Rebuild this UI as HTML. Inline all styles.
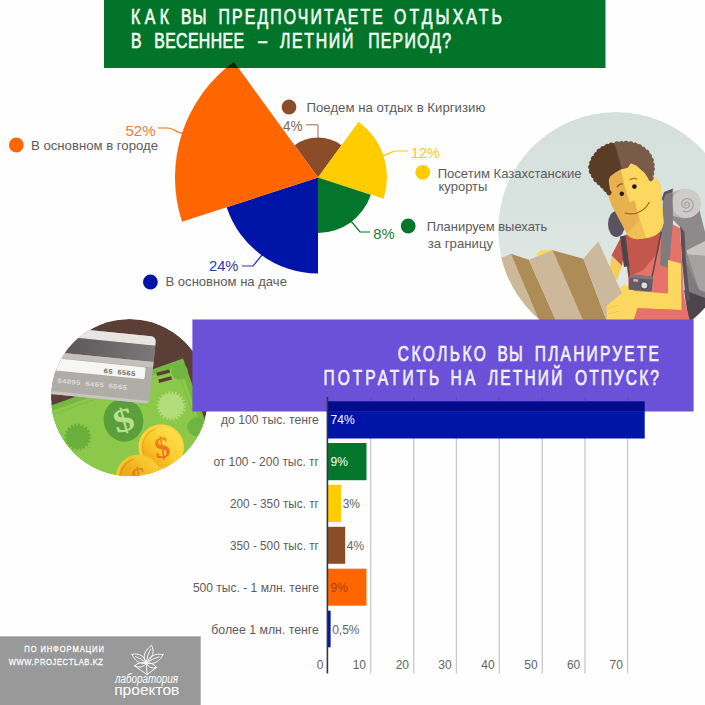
<!DOCTYPE html>
<html lang="ru">
<head>
<meta charset="utf-8">
<title>Infographic</title>
<style>
html,body{margin:0;padding:0;background:#fefefe;}
body{width:705px;height:705px;overflow:hidden;position:relative;font-family:"Liberation Sans",sans-serif;}
svg{position:absolute;left:0;top:0;display:block;}
text{font-family:"Liberation Sans",sans-serif;}
.lbl{font-size:13px;fill:#5c5c5c;}
.ttl{font-size:22px;fill:#f4fbf2;stroke:#f4fbf2;stroke-width:0.7px;}
.ttl2{font-size:21.5px;fill:#f3f0ff;stroke:#f3f0ff;stroke-width:0.7px;}
.pct{font-size:15px;}
.ax{font-size:12px;fill:#646464;}
</style>
</head>
<body>
<svg width="705" height="705" viewBox="0 0 705 705">
<defs>
<linearGradient id="gTrav" x1="0" x2="0" y1="0" y2="1"><stop offset="0" stop-color="#d5dfdb"/><stop offset="0.45" stop-color="#d9e3df"/><stop offset="0.85" stop-color="#e4ebe9"/></linearGradient>
<clipPath id="cHdr"><rect x="104" y="0" width="501.5" height="68"/></clipPath>
<clipPath id="cTrav"><circle cx="616" cy="230" r="118"/></clipPath>
<clipPath id="cMoney"><circle cx="129.5" cy="397.5" r="78.5"/></clipPath>
</defs>

<!-- ===== traveler circle ===== -->
<g id="traveler" clip-path="url(#cTrav)">
<circle cx="616" cy="230" r="118" fill="url(#gTrav)"/>
<!--TRAV_START-->
<!-- backpack body -->
<path d="M666,194 L680,192 L699,208 L705,232 L705,305 L692,314 L686,292 L685,262 L681,228 L673,220 Z" fill="#8e898b"/>
<path d="M686.5,250.5 L705,241 L705,256 L687.5,254.5 Z" fill="#c9c5c2"/>
<path d="M687.5,254.5 L705,256 L705,292 L699,290 Z" fill="#a5a1a0"/>
<path d="M686,262 L699,290 L705,292 L705,300 L690,300 Z" fill="#7f7a7d"/>
<path d="M684,290 L705,298 L705,330 L690,330 Z" fill="#4c464c"/>
<path d="M680,226 L684.5,232 L686,262 L690,300 L686,302 L682,262 Z" fill="#5a5258"/>
<!-- roll -->
<path d="M672.5,192 L684,188.5 L684,218.5 L672.5,216 Z" fill="#bab6b5"/>
<circle cx="686.5" cy="203.4" r="14.6" fill="#cfcbca"/>
<path d="M686.2,205.2 C684.8,205.4 684.3,203.2 685.8,202.4 C688,201.2 690.2,203.6 689.2,206 C688,208.8 683.6,208.8 682.2,205.6 C680.6,201.8 683.8,198.2 687.6,198.6 C692,199 694.4,203.6 692.8,207.6 C691.2,211.4 686.8,212.6 683.2,211.2" fill="none" stroke="#aaa5a6" stroke-width="1.3" stroke-linecap="round"/>
<!-- dark pad behind left shoulder -->
<ellipse cx="616.5" cy="224" rx="8.5" ry="13" fill="#595360"/>
<!-- torso light red -->
<path d="M624,236 L668,222 L680,228 L682,262 L684,296 L690,322 L630,322 L628,276 Z" fill="#e5736a"/>
<!-- chest dark red -->
<path d="M624.6,235 L661.5,231 L658.5,251.6 L643.4,270 L628.5,277 L625.5,260 Z" fill="#c4574d"/>
<!-- left sleeve -->
<path d="M620,239 L611.5,255.5 L622,266 L625.5,246 Z" fill="#c4574d"/>
<!-- left arm -->
<path d="M611.5,256 L622,266 L617,280 L609,276 Z" fill="#f5cd58"/>
<!-- straps -->
<path d="M620,236.5 L625.5,235.5 L629.5,266 L624,267 Z" fill="#4b4349"/>
<path d="M663,199 L666,193 L672.5,191 L673,222 L668.8,268 L660,265 L661.5,232 Z" fill="#807b7f"/>
<path d="M661,201 L664,192 L673,188.5 L672.5,192 L666,194 L663.2,200 Z" fill="#5a5560"/>
<path d="M672.5,220 L680,228 L682,262 L684,296 L676,280 L668.5,268 Z" fill="#8e898b" opacity="0"/>
<!-- right arm -->
<path d="M668,260 L681,263.5 L681.5,310 L633,308 L608,312 L607,304 L624,284 L634,291 L668,293.5 Z" fill="#fdd860"/>
<path d="M681.5,310 L633,308 L628,322 L690,322 Z" fill="#e5736a"/>
<!-- camera straps -->
<path d="M624.8,236 L629.5,277 M661.2,232 L652,277" stroke="#5b4a47" stroke-width="1.5" fill="none"/>
<!-- camera -->
<g transform="rotate(5 640 283)">
<rect x="629" y="275.5" width="23.5" height="15" rx="1.5" fill="#615e67"/>
<rect x="629" y="275.5" width="23.5" height="3" rx="1.2" fill="#7b7881"/>
<circle cx="644.5" cy="285" r="4.2" fill="#4e4b54"/>
<circle cx="644.5" cy="285" r="3" fill="#dcdcdc"/>
<rect x="633" y="279.5" width="5" height="2.6" rx="1" fill="#e9a7c0"/>
</g>
<!-- face -->
<path d="M606.9,169 L606.9,176 L608.9,198 L611.5,205 L626.8,233.7 Q631,240 639.5,239 L651.4,237 Q661.6,233.7 663.7,222.7 L660.3,184.4 L656.5,178.5 L631,160 Z" fill="#e8b04e"/>
<path d="M620,166 L624.6,186 L629.7,202.3 L634.8,200.6 L636.1,206.5 L639.9,220 L646,238.3 L651.4,237 Q661.6,233.7 663.7,222.7 L660.3,184.4 L656.5,178.5 L631,160 Z" fill="#fdd860"/>
<path d="M626.8,233.7 Q631,240 639.5,239 L646,238.3 L639.9,220 Z" fill="#f0bf55"/>
<!-- eyes, brows, smile -->
<circle cx="621.8" cy="193.8" r="2.2" fill="#231a14"/>
<circle cx="634.4" cy="186.6" r="2.3" fill="#231a14"/>
<path d="M617,187.2 Q619.5,183.2 623,184" stroke="#8a5a2a" stroke-width="1.2" fill="none"/>
<path d="M629.5,180 Q633.5,177 637.2,179.5" stroke="#b07a30" stroke-width="1.2" fill="none"/>
<path d="M624.6,213 Q641,217 649.6,202" stroke="#a8691f" stroke-width="1.2" fill="none"/>
<!-- hair -->
<path d="M609.0,192.6 L601.8,184.9 L596.3,180.2 L591.5,172.2 L590.6,165.8 L593.8,157.9 L600.2,150.0 L608.1,146.0 L616.9,143.9 L628.8,143.3 L638.3,146.0 L646.3,151.5 L651.0,158.7 L652.6,167.4 L651.4,175.4 L650.8,180.2 L645.5,172.2 L636.7,164.3 L630.4,161.9 L627.2,166.7 L620.8,168.3 L614.5,171.5 L609.0,175.4 L607.4,180.2 Z" fill="#7a5a49" stroke="#7a5a49" stroke-width="2.4" stroke-linejoin="round"/>
<path d="M613.7,144.4 L608.1,146.0 L600.2,150.0 L593.8,157.9 L590.6,165.8 L591.5,172.2 L596.3,180.2 L601.8,184.9 L609.0,192.6 L607.4,180.2 L609.0,175.4 L614.5,171.5 L620.3,168.0 Z" fill="#5b3d27" stroke="#5b3d27" stroke-width="2.4" stroke-linejoin="round"/>
<path d="M609.0,192.6 L601.8,184.9 L596.3,180.2 L591.5,172.2 L590.6,165.8 L593.8,157.9 L600.2,150.0 L608.1,146.0 L613.7,144.4" fill="none" stroke="#5b3d27" stroke-width="5.2" stroke-linecap="round" stroke-dasharray="0.01 4.6"/>
<path d="M616.9,143.9 L628.8,143.3 L638.3,146.0 L646.3,151.5 L651.0,158.7 L652.6,167.4 L651.4,175.4 L650.8,180.2" fill="none" stroke="#7a5a49" stroke-width="5.2" stroke-linecap="round" stroke-dasharray="0.01 4.6"/>
<!-- left hand peeking above map -->
<path d="M535.5,255 L540,250.2 L552.6,249.6 L556,252 L548,258 Z" fill="#fdd860"/>
<!-- map -->
<path d="M496,258 L503.9,256.7 L510.9,253.8 L541,325 L496,325 Z" fill="#cdb999"/>
<path d="M510.9,253.8 L528.8,259.7 L558,325 L541,325 Z" fill="#ad8c58"/>
<path d="M528.8,259.7 L552.6,250.2 L585,325 L558,325 Z" fill="#cdb999"/>
<path d="M552.6,250.2 L583.4,258.7 L608.3,325 L585,325 Z" fill="#ad8c58"/>
<path d="M583.4,258.7 L598.3,241.4 L622,293.5 L612,306 L608.3,325 Z" fill="#cbb89d"/>
<!-- right hand over map -->
<path d="M607,325 L606.5,306 L622,293 L634,290.5 L640,300 L632,325 Z" fill="#fdd860"/>
<path d="M607.5,309 L618,305 M608,314 L619,311" stroke="#f0c654" stroke-width="1" fill="none"/>
<!--TRAV_END-->
</g>

<!-- ===== money circle ===== -->
<g id="money" clip-path="url(#cMoney)">
<circle cx="129.5" cy="397.5" r="78.5" fill="#5b3f36"/>
<!--MONEY_START-->
<!-- bill -->
<g transform="rotate(-19.6 183 358.5)">
<rect x="20" y="358.5" width="163" height="140" fill="#76b842"/>
<rect x="20" y="364" width="157.5" height="130" fill="#8cc94b"/>
<rect x="20" y="367.5" width="154" height="125" fill="none" stroke="#7dbd45" stroke-width="1"/>
<circle cx="175.5" cy="369.5" r="8.2" fill="#70b53f"/>
<circle cx="173" cy="427.5" r="9.5" fill="#70b53f"/>
</g>
<!-- equals marks -->
<g transform="rotate(-15 164 376)" fill="#5b3f36">
<rect x="157.5" y="370.8" width="13.4" height="3.4"/>
<rect x="157.5" y="378" width="13.4" height="3.4"/>
</g>
<!-- starbursts -->
<g fill="#b3dc7c">
<circle cx="171.2" cy="406" r="12.4"/>
<circle cx="171.2" cy="406" r="12.9" fill="none" stroke="#b3dc7c" stroke-width="3.2" stroke-dasharray="1.6 1.78"/>
</g>
<g fill="#6aae3c">
<circle cx="77.8" cy="437" r="11.6"/>
<circle cx="77.8" cy="437" r="12" fill="none" stroke="#6aae3c" stroke-width="3" stroke-dasharray="2 1.77"/>
</g>
<!-- dollar medallion -->
<ellipse cx="123.5" cy="420.3" rx="19.8" ry="21.5" fill="#5a9f3c" transform="rotate(-15 123.5 420.3)"/>
<text x="0" y="11" text-anchor="middle" font-size="33px" font-weight="bold" fill="#b9df8e" transform="translate(123.5,420.3) rotate(-15) scale(1.25,1)" style="font-family:'Liberation Serif',serif">$</text>
<!-- credit card -->
<defs><linearGradient id="gStripe" x1="0" x2="1" y1="0" y2="0"><stop offset="0.3" stop-color="#5d595b"/><stop offset="1" stop-color="#7c7879"/></linearGradient></defs>
<g transform="translate(1.2,1.2) rotate(5.7 154.9 335.5)">
<rect x="30" y="335.5" width="124.9" height="67.5" rx="5" fill="#b0aca8"/>
<path d="M30,335.5 H149.9 a5,5 0 0 1 5,5 V344.5 H30 Z" fill="#e7e5e1"/>
<rect x="30" y="344.5" width="124.9" height="16.5" fill="url(#gStripe)"/>
<rect x="30" y="361" width="124.9" height="5.5" fill="#c4c1bd"/>
<rect x="30" y="367" width="117.5" height="12" rx="1.5" fill="#f6f6f5"/>
<path d="M30,400 H154.9 V398 a5,5 0 0 1 -5,5 H30 Z" fill="#c9c5c0"/>
<text x="106" y="376.8" font-size="7px" font-weight="bold" fill="#726f6c" textLength="32" lengthAdjust="spacingAndGlyphs" style="font-family:'Liberation Mono',monospace">65 6565</text>
<text x="61" y="391.3" font-size="7px" font-weight="bold" fill="#dedbd6" textLength="70" lengthAdjust="spacingAndGlyphs" style="font-family:'Liberation Mono',monospace">54095 6465 6565</text>
</g>
<!-- coins -->
<defs>
<linearGradient id="gCoin" x1="0.85" y1="0.1" x2="0.15" y2="0.9"><stop offset="0" stop-color="#ffe14d"/><stop offset="0.55" stop-color="#fccb2b"/><stop offset="1" stop-color="#f0a216"/></linearGradient>
<linearGradient id="gCoin2" x1="0.85" y1="0.1" x2="0.15" y2="0.9"><stop offset="0" stop-color="#f9cf38"/><stop offset="0.5" stop-color="#efb01d"/><stop offset="1" stop-color="#e59a14"/></linearGradient>
<linearGradient id="gDol" x1="0.5" y1="0" x2="0.5" y2="1"><stop offset="0" stop-color="#ef9220"/><stop offset="1" stop-color="#ee5f1c"/></linearGradient>
</defs>
<g>
<circle cx="161.2" cy="447" r="22.8" fill="#fbd33a"/>
<circle cx="162" cy="447.2" r="20.6" fill="url(#gCoin)"/>
<path d="M145.5,458 A20,20 0 0 1 156,428.5" fill="none" stroke="#ee9d18" stroke-width="1.1" opacity="0.8"/>
<text x="162" y="457.5" text-anchor="middle" font-size="30px" font-weight="bold" fill="url(#gDol)" transform="rotate(-10 162 447)" style="font-family:'Liberation Serif',serif">$</text>
<circle cx="138.6" cy="477.3" r="22.8" fill="#f6c631"/>
<circle cx="139.2" cy="477.6" r="20.6" fill="url(#gCoin2)"/>
<path d="M123,488 A20,20 0 0 1 133.5,459" fill="none" stroke="#d98a12" stroke-width="1.1" opacity="0.8"/>
<text x="139" y="488" text-anchor="middle" font-size="30px" font-weight="bold" fill="#e08a1a" transform="rotate(-10 139 477.3)" style="font-family:'Liberation Serif',serif">$</text>
</g>
<!--MONEY_END-->
</g>

<!-- ===== green header ===== -->
<rect x="104" y="0" width="501.5" height="68" fill="#02742a"/>
<g class="ttl">
<text transform="translate(131.0,24.0) scale(0.72,1)" textLength="52.8" lengthAdjust="spacing">КАК</text>
<text transform="translate(181.0,24.0) scale(0.72,1)" textLength="35.4" lengthAdjust="spacing">ВЫ</text>
<text transform="translate(218.6,24.0) scale(0.72,1)" textLength="228.1" lengthAdjust="spacing">ПРЕДПОЧИТАЕТЕ</text>
<text transform="translate(394.0,24.0) scale(0.72,1)" textLength="150.0" lengthAdjust="spacing">ОТДЫХАТЬ</text>
<text transform="translate(131.0,47.5) scale(0.72,1)" textLength="13.3" lengthAdjust="spacing">В</text>
<text transform="translate(154.2,47.5) scale(0.72,1)" textLength="124.7" lengthAdjust="spacing">ВЕСЕННЕЕ</text>
<text transform="translate(258.3,47.5) scale(0.72,1)" textLength="13.1" lengthAdjust="spacing">–</text>
<text transform="translate(280.0,47.5) scale(0.72,1)" textLength="101.8" lengthAdjust="spacing">ЛЕТНИЙ</text>
<text transform="translate(368.2,47.5) scale(0.72,1)" textLength="115.0" lengthAdjust="spacing">ПЕРИОД?</text>
</g>

<!-- ===== pie ===== -->
<g id="pie">
<path d="M318,177.5 L294.49,145.14 A40,40 0 0 1 341.51,145.14 Z" fill="#8b4d27"/>
<path d="M318,177.5 L358.56,121.68 A69,69 0 0 1 383.62,198.82 Z" fill="#ffcc00"/>
<path d="M318,177.5 L370.78,194.65 A55.5,55.5 0 0 1 318.00,233.00 Z" fill="#03762b"/>
<path d="M318,177.5 L318.00,273.50 A96,96 0 0 1 226.70,207.17 Z" fill="#0014a8"/>
<path d="M318,177.5 L182.00,221.69 A143,143 0 0 1 233.95,61.81 Z" fill="#ff6600"/>
<path d="M318,177.5 L182.00,221.69 A143,143 0 0 1 233.95,61.81 Z" fill="#0a2805" clip-path="url(#cHdr)"/>
</g>

<!-- leader lines -->
<g fill="none" stroke-width="1.2">
<path d="M158,128 H168 C174,128 176,133 183,133.5" stroke="#ff6600"/>
<path d="M306,124.8 H318 V138" stroke="#94705c" stroke-width="1"/>
<path d="M408,151 H397 C391,151 388,155 383,155.5" stroke="#ffcc00"/>
<path d="M370,232 H360 L351,221" stroke="#03762b"/>
<path d="M242,266 H253 L262,255" stroke="#2a35a8"/>
</g>

<!-- pct labels -->
<g class="pct">
<text x="125.5" y="135.5" fill="#f47a33" textLength="30" lengthAdjust="spacingAndGlyphs">52%</text>
<text x="283" y="131" fill="#7f6658" textLength="19.6" lengthAdjust="spacingAndGlyphs">4%</text>
<text x="411" y="158" fill="#f9c81c" textLength="28.7" lengthAdjust="spacingAndGlyphs">12%</text>
<text x="373.2" y="238.8" fill="#1f7a3a" textLength="21.4" lengthAdjust="spacingAndGlyphs">8%</text>
<text x="209" y="271.4" fill="#2f3aa5" textLength="29.4" lengthAdjust="spacingAndGlyphs">24%</text>
</g>

<!-- legend dots + labels -->
<circle cx="16.3" cy="145" r="7.4" fill="#ff6600"/>
<circle cx="289" cy="107" r="7.4" fill="#8b4d27"/>
<circle cx="422.7" cy="172.3" r="7.4" fill="#ffcc00"/>
<circle cx="408.2" cy="226" r="7.4" fill="#03762b"/>
<circle cx="150.4" cy="282" r="7.4" fill="#0014a8"/>
<g class="lbl">
<text x="31" y="149.6" textLength="127" lengthAdjust="spacingAndGlyphs">В основном в городе</text>
<text x="306.5" y="112.2" textLength="178.8" lengthAdjust="spacingAndGlyphs">Поедем на отдых в Киргизию</text>
<text x="437.7" y="178" textLength="143.9" lengthAdjust="spacingAndGlyphs">Посетим Казахстанские</text>
<text x="438.5" y="190.8">курорты</text>
<text x="426.7" y="231.4" textLength="120.6" lengthAdjust="spacingAndGlyphs">Планируем выехать</text>
<text x="427.8" y="248" textLength="65.2" lengthAdjust="spacingAndGlyphs">за границу</text>
<text x="165.5" y="286" textLength="121.4" lengthAdjust="spacingAndGlyphs">В основном на даче</text>
</g>

<!-- ===== bar chart ===== -->
<g id="bars">
<g stroke="#c9c9c9" stroke-width="1.3">
<path d="M370.7,397V673.5M413.7,397V673.5M456.4,397V673.5M499.3,397V673.5M542.3,397V673.5M585,397V673.5M627.6,397V673.5"/>
</g>
<rect x="328" y="401.3" width="316.7" height="37.2" fill="#0014a8"/>
<rect x="328" y="443" width="38.5" height="37.2" fill="#03762b"/>
<rect x="328" y="484.8" width="13" height="37.2" fill="#ffcc00"/>
<rect x="328" y="526.8" width="17.2" height="37" fill="#8b4d27"/>
<rect x="328" y="568.7" width="38.5" height="37" fill="#ff6600"/>
<rect x="328" y="610.7" width="2.6" height="36.6" fill="#0014a8"/>
</g>

<!-- ===== purple banner ===== -->
<rect x="192.4" y="319.5" width="501.2" height="92" fill="#6b50d8"/>
<!-- overlap of blue bar and banner -->
<rect x="328" y="401.3" width="316.7" height="10.2" fill="#000c8c"/>
<g stroke="#5d44c4" stroke-width="1.2">
<path d="M370.7,397V401.3M413.7,397V401.3M456.4,397V401.3M499.3,397V401.3M542.3,397V401.3M585,397V401.3M627.6,397V401.3"/>
</g>
<rect x="326.6" y="397" width="1.6" height="276.5" fill="#333846"/>
<g class="ttl2">
<text transform="translate(397.8,361.0) scale(0.72,1)" textLength="122.2" lengthAdjust="spacing">СКОЛЬКО</text>
<text transform="translate(497.4,361.0) scale(0.72,1)" textLength="35.0" lengthAdjust="spacing">ВЫ</text>
<text transform="translate(534.8,361.0) scale(0.72,1)" textLength="172.4" lengthAdjust="spacing">ПЛАНИРУЕТЕ</text>
<text transform="translate(323.5,385.0) scale(0.72,1)" textLength="160.8" lengthAdjust="spacing">ПОТРАТИТЬ</text>
<text transform="translate(450.6,385.0) scale(0.72,1)" textLength="34.3" lengthAdjust="spacing">НА</text>
<text transform="translate(488.0,385.0) scale(0.72,1)" textLength="103.2" lengthAdjust="spacing">ЛЕТНИЙ</text>
<text transform="translate(575.0,385.0) scale(0.72,1)" textLength="116.5" lengthAdjust="spacing">ОТПУСК?</text>
</g>

<!-- bar labels -->
<g class="lbl">
<text x="220.9" y="424" textLength="98.0" lengthAdjust="spacingAndGlyphs">до 100 тыс. тенге</text>
<text x="213.4" y="466" textLength="105.5" lengthAdjust="spacingAndGlyphs">от 100 - 200 тыс. тг</text>
<text x="230" y="508" textLength="88.9" lengthAdjust="spacingAndGlyphs">200 - 350 тыс. тг</text>
<text x="230" y="550" textLength="88.9" lengthAdjust="spacingAndGlyphs">350 - 500 тыс. тг</text>
<text x="192.9" y="592" textLength="126.0" lengthAdjust="spacingAndGlyphs">500 тыс. - 1 млн. тенге</text>
<text x="211.3" y="634" textLength="107.6" lengthAdjust="spacingAndGlyphs">более 1 млн. тенге</text>
</g>
<g class="ax">
<text x="330.6" y="424" fill="#fff">74%</text>
<text x="330.6" y="466" fill="#fff">9%</text>
<text x="342.7" y="508">3%</text>
<text x="346.8" y="550">4%</text>
<text x="330.6" y="592" fill="#a8400a">9%</text>
<text x="332.2" y="634">0,5%</text>
</g>
<g class="ax" text-anchor="end">
<text x="323.5" y="669.4">0</text>
<text x="366" y="669.4">10</text>
<text x="409" y="669.4">20</text>
<text x="451.7" y="669.4">30</text>
<text x="494.6" y="669.4">40</text>
<text x="537.6" y="669.4">50</text>
<text x="580.3" y="669.4">60</text>
<text x="622.9" y="669.4">70</text>
</g>

<!-- ===== footer ===== -->
<rect x="0" y="636.3" width="200.7" height="69" fill="#999"/>
<g fill="#fff" stroke="#fff" stroke-width="0.25" font-size="9.5px">
<text transform="translate(24.3,652.2) scale(0.8,1)" textLength="99.5" lengthAdjust="spacing">ПО ИНФОРМАЦИИ</text>
<text transform="translate(8.7,664.7) scale(0.8,1)" textLength="117.9" lengthAdjust="spacing">WWW.PROJECTLAB.KZ</text>
</g>
<!--LOGO_START-->
<g fill="none" stroke="#fff" stroke-width="0.95" stroke-linejoin="round" stroke-linecap="round" opacity="0.95">
<path d="M146.4,663.3 C141.5,656.5 145,650.5 151.5,645.2 C155,651.5 152.5,658 146.4,663.3 Z"/>
<path d="M146.4,663.3 C147,657 148.5,652.5 150.6,649.5"/>
<path d="M132,654.4 C139,652.5 144.5,656 146.4,663.3 C139.5,664.5 134.5,660.5 132,654.4 Z"/>
<path d="M135.5,656.6 Q141,658 146.4,663.3"/>
<path d="M163,654.7 C155.5,652.8 149,656 146.4,663.3 C154.5,664.8 160,661 163,654.7 Z"/>
<path d="M159,656.8 Q152.5,658.5 146.4,663.3"/>
<path d="M134.6,665.8 Q140,660.8 146.4,663.3 Q141.5,669.5 134.6,665.8 Z"/>
<path d="M156.6,667.4 Q152,661.8 146.4,663.3 Q150,670 156.6,667.4 Z"/>
<path d="M134.6,665.8 L147,674.6 L156.6,667.4 M146.4,663.3 L147,674.6"/>
</g>
<g fill="#fff">
<text x="114.9" y="683.2" font-size="12px" font-style="italic" textLength="63.1" lengthAdjust="spacingAndGlyphs">лаборатория</text>
<text x="114.2" y="694.8" font-size="15px" textLength="65.2" lengthAdjust="spacingAndGlyphs">проектов</text>
</g>
<!--LOGO_END-->
</svg>
</body>
</html>
